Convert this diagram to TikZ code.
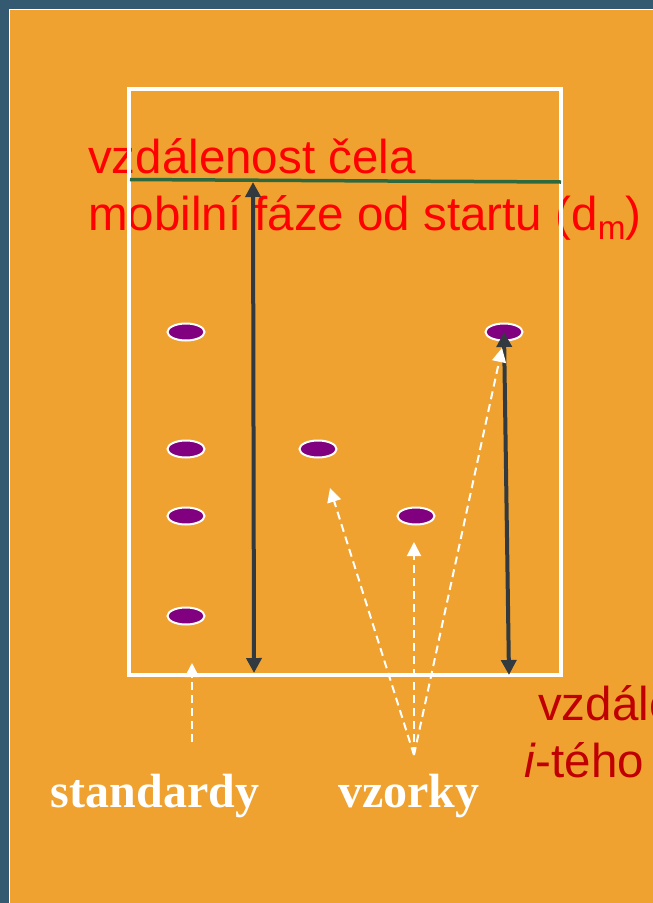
\documentclass[tikz,border=0pt]{standalone}
\usepackage{fontspec}
\setmainfont{Liberation Sans}
\newfontfamily\serifbold{Liberation Serif}
\definecolor{Slate}{RGB}{52,90,114}
\definecolor{Amber}{RGB}{239,162,47}
\definecolor{Spot}{RGB}{128,0,128}
\definecolor{DarkArrow}{RGB}{50,58,64}
\definecolor{Front}{RGB}{48,104,62}
\definecolor{DarkRed}{RGB}{192,0,0}
\usetikzlibrary{shapes.geometric, arrows.meta}

\begin{document}
\begin{tikzpicture}[x=1pt,y=-1pt,
	spot/.style={ellipse,draw=white,line width=2pt,fill=Spot,minimum width=37pt,minimum height=17pt,inner sep=0pt},
	dist/.style={draw=DarkArrow,line width=4pt,{Triangle[length=15pt,width=15pt]}-{Triangle[length=15pt,width=15pt]}},
	hint/.style={draw=white,line width=2pt,dash pattern=on 8pt off 5pt,-{Triangle[length=14pt,width=14pt]}},
	redtext/.style={text=red,inner sep=0pt,anchor=base west,font=\fontsize{47.5}{56}\selectfont},
	bottomtext/.style={text=white,inner sep=0pt,anchor=base,font=\serifbold\bfseries\fontsize{48}{56}\selectfont}]

	\useasboundingbox (0,0) rectangle (653,903);
	\clip (0,0) rectangle (653,903);

	% background
	\fill[Slate] (0,0) rectangle (653,903);
	\draw[white,line width=1pt,fill=Amber] (9,9) rectangle (670,920);

	% texts
	\node[redtext] (lblfront1) at (88,173) {vzdálenost čela};
	\node[redtext] (lblfront2) at (88,230) {mobilní fáze od startu (d\textsubscript{m})};
	\node[redtext,text=DarkRed] (lbldist1) at (538,720) {vzdálenost};
	\node[redtext,text=DarkRed] (lbldist2) at (524,777) {\textit{i}-tého};
	\node[bottomtext] (lblstd) at (155,807) {standardy};
	\node[bottomtext] (lblsmp) at (409,807) {vzorky};

	% plate
	\draw[white,line width=3.5pt] (129,89) rectangle (561,675);
	\draw[Front,line width=3.5pt] (130,179.5) -- (561,182); % front

	% spots
	\foreach \y [count=\i] in {332,449,516,616}
		\node[spot] (std\i) at (186,\y) {};
	\node[spot] (smp1) at (318,449) {};
	\node[spot] (smp2) at (416,516) {};
	\node[spot] (smp3) at (504,332) {};

	% distances
	\coordinate (frontpt) at (253,182);
	\coordinate (start) at (254,673);
	\coordinate (start3) at (509,675);
	\draw[dist] (frontpt) -- (start);
	\draw[dist] (smp3.center) -- (start3);

	% pointers
	\coordinate (stdfoot) at (192,742);
	\coordinate (stdtip) at (192,663);
	\coordinate (smpfoot) at (414,755);
	\coordinate (tip1) at (330,488);
	\coordinate (tip2) at (414,542);
	\coordinate (tip3) at (502,348);
	\draw[hint] (stdfoot) -- (stdtip);
	\draw[hint] (smpfoot) -- (tip1);
	\draw[hint] (smpfoot) -- (tip2);
	\draw[hint] (smpfoot) -- (tip3);
\end{tikzpicture}
\end{document}
